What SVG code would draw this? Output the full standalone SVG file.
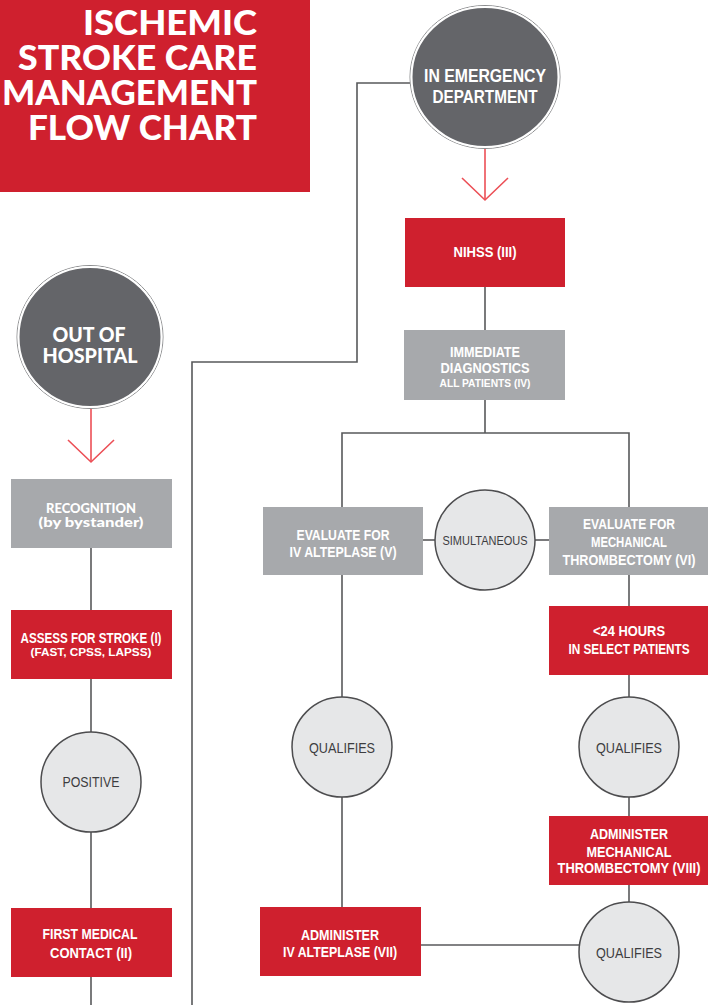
<svg xmlns="http://www.w3.org/2000/svg" width="708" height="1005" viewBox="0 0 708 1005">
<style>
.red{fill:#cf202e}
.gray{fill:#a7a9ac}
.light{fill:#e6e7e8;stroke:#4d4d4f;stroke-width:1.5}
.dark{fill:#646569;stroke:#ffffff;stroke-width:2}
.ring{fill:none;stroke:#8a8b8d;stroke-width:1}
.ln{fill:none;stroke:#58595b;stroke-width:1.6}
.arr{fill:none;stroke:#ec4f56;stroke-width:1.6}
.bt{font-family:"Liberation Sans",Arial,sans-serif;font-weight:bold;fill:#ffffff;text-anchor:middle}
.ct{font-family:"Liberation Sans",Arial,sans-serif;fill:#3d3d3f;text-anchor:middle}
.gt{font-family:Lato,"Liberation Sans",sans-serif;font-weight:900;fill:#ffffff;text-anchor:middle}
.tt{font-family:Lato,"Liberation Sans",sans-serif;font-weight:900;fill:#ffffff;text-anchor:end;font-size:34px}
</style>
<rect width="708" height="1005" fill="#ffffff"/>
<g id="title">
<rect x="0" y="0" width="310" height="192" class="red"/>
<text class="tt" x="257" y="35" textLength="174" lengthAdjust="spacingAndGlyphs">ISCHEMIC</text>
<text class="tt" x="257" y="70" textLength="239" lengthAdjust="spacingAndGlyphs">STROKE CARE</text>
<text class="tt" x="257" y="105" textLength="255" lengthAdjust="spacingAndGlyphs">MANAGEMENT</text>
<text class="tt" x="257" y="140" textLength="229" lengthAdjust="spacingAndGlyphs">FLOW CHART</text>
</g>
<g id="connectors">
<polyline class="ln" points="410,83 357,83 357,362 192,362 192,1005"/>
<line class="ln" x1="485" y1="287" x2="485" y2="330"/>
<polyline class="ln" points="485,400 485,433"/>
<polyline class="ln" points="342,507 342,433 629,433 629,507"/>
<line class="ln" x1="423" y1="540" x2="435" y2="540"/>
<line class="ln" x1="535" y1="540" x2="549" y2="540"/>
<line class="ln" x1="342" y1="575" x2="342" y2="697"/>
<line class="ln" x1="342" y1="797" x2="342" y2="907"/>
<line class="ln" x1="421" y1="945" x2="579" y2="945"/>
<line class="ln" x1="629" y1="575" x2="629" y2="606"/>
<line class="ln" x1="629" y1="675" x2="629" y2="697"/>
<line class="ln" x1="629" y1="797" x2="629" y2="816"/>
<line class="ln" x1="629" y1="885" x2="629" y2="902"/>
<line class="ln" x1="91" y1="548" x2="91" y2="610"/>
<line class="ln" x1="91" y1="679" x2="91" y2="732"/>
<line class="ln" x1="91" y1="832" x2="91" y2="908"/>
<line class="ln" x1="91" y1="977" x2="91" y2="1005"/>
<line class="arr" x1="485" y1="149" x2="485" y2="200"/>
<polyline class="arr" points="462,178 485,200 508,178"/>
<line class="arr" x1="91" y1="409" x2="91" y2="462"/>
<polyline class="arr" points="68,440 91,462 114,440"/>
</g>
<g id="ed">
<ellipse class="ring" cx="485" cy="77" rx="75" ry="71.5"/>
<ellipse class="dark" cx="485" cy="77" rx="73.5" ry="70"/>
<text class="bt" x="485" y="82" font-size="18" textLength="122" lengthAdjust="spacingAndGlyphs">IN EMERGENCY</text>
<text class="bt" x="485" y="103" font-size="18" textLength="105" lengthAdjust="spacingAndGlyphs">DEPARTMENT</text>
</g>
<g id="nihss">
<rect x="405" y="218" width="160" height="69" class="red"/>
<text class="bt" x="485" y="257" font-size="15" textLength="63" lengthAdjust="spacingAndGlyphs">NIHSS (III)</text>
</g>
<g id="diagnostics">
<rect x="404" y="330" width="161" height="70" class="gray"/>
<text class="bt" x="485" y="357" font-size="14.5" textLength="70" lengthAdjust="spacingAndGlyphs">IMMEDIATE</text>
<text class="bt" x="485" y="373" font-size="14.5" textLength="89" lengthAdjust="spacingAndGlyphs">DIAGNOSTICS</text>
<text class="bt" x="485" y="387" font-size="10.5" textLength="91" lengthAdjust="spacingAndGlyphs">ALL PATIENTS (IV)</text>
</g>
<g id="eval-iv">
<rect x="263" y="507" width="160" height="68" class="gray"/>
<text class="bt" x="343" y="540" font-size="15" textLength="93" lengthAdjust="spacingAndGlyphs">EVALUATE FOR</text>
<text class="bt" x="343" y="557" font-size="15" textLength="107" lengthAdjust="spacingAndGlyphs">IV ALTEPLASE (V)</text>
</g>
<g id="simultaneous">
<circle class="light" cx="485" cy="540" r="50"/>
<text class="ct" x="485" y="545" font-size="12" textLength="85" lengthAdjust="spacingAndGlyphs">SIMULTANEOUS</text>
</g>
<g id="eval-mt">
<rect x="549" y="507" width="159" height="68" class="gray"/>
<text class="bt" x="629" y="529" font-size="15" textLength="92" lengthAdjust="spacingAndGlyphs">EVALUATE FOR</text>
<text class="bt" x="629" y="547" font-size="15" textLength="76" lengthAdjust="spacingAndGlyphs">MECHANICAL</text>
<text class="bt" x="629" y="565" font-size="14" textLength="133" lengthAdjust="spacingAndGlyphs">THROMBECTOMY (VI)</text>
</g>
<g id="hours24">
<rect x="549" y="606" width="159" height="69" class="red"/>
<text class="bt" x="629" y="636" font-size="15" textLength="72" lengthAdjust="spacingAndGlyphs">&lt;24 HOURS</text>
<text class="bt" x="629" y="654" font-size="14" textLength="121" lengthAdjust="spacingAndGlyphs">IN SELECT PATIENTS</text>
</g>
<g id="qualifies-iv">
<circle class="light" cx="342" cy="747" r="50"/>
<text class="ct" x="342" y="753" font-size="15.5" textLength="66" lengthAdjust="spacingAndGlyphs">QUALIFIES</text>
</g>
<g id="qualifies-mt">
<circle class="light" cx="629" cy="747" r="50"/>
<text class="ct" x="629" y="753" font-size="15.5" textLength="66" lengthAdjust="spacingAndGlyphs">QUALIFIES</text>
</g>
<g id="administer-mt">
<rect x="549" y="816" width="159" height="69" class="red"/>
<text class="bt" x="629" y="839" font-size="15" textLength="78" lengthAdjust="spacingAndGlyphs">ADMINISTER</text>
<text class="bt" x="629" y="857" font-size="15" textLength="85" lengthAdjust="spacingAndGlyphs">MECHANICAL</text>
<text class="bt" x="629" y="873" font-size="14" textLength="143" lengthAdjust="spacingAndGlyphs">THROMBECTOMY (VIII)</text>
</g>
<g id="qualifies-bottom">
<circle class="light" cx="629" cy="952" r="50"/>
<text class="ct" x="629" y="958" font-size="15.5" textLength="66" lengthAdjust="spacingAndGlyphs">QUALIFIES</text>
</g>
<g id="administer-iv">
<rect x="260" y="907" width="161" height="69" class="red"/>
<text class="bt" x="340" y="940" font-size="15" textLength="78" lengthAdjust="spacingAndGlyphs">ADMINISTER</text>
<text class="bt" x="340" y="957" font-size="15" textLength="114" lengthAdjust="spacingAndGlyphs">IV ALTEPLASE (VII)</text>
</g>
<g id="out-of-hospital">
<ellipse class="ring" cx="90" cy="337" rx="73" ry="71.5"/>
<ellipse class="dark" cx="90" cy="337" rx="71.5" ry="70"/>
<text class="gt" x="89" y="342" font-size="20" textLength="73" lengthAdjust="spacingAndGlyphs">OUT OF</text>
<text class="gt" x="90" y="363" font-size="20" textLength="95" lengthAdjust="spacingAndGlyphs">HOSPITAL</text>
</g>
<g id="recognition">
<rect x="11" y="479" width="161" height="69" class="gray"/>
<text class="gt" x="91" y="513" font-size="13" textLength="90" lengthAdjust="spacingAndGlyphs">RECOGNITION</text>
<text class="gt" x="91" y="527" font-size="13" textLength="105" lengthAdjust="spacingAndGlyphs">(by bystander)</text>
</g>
<g id="assess">
<rect x="11" y="610" width="161" height="69" class="red"/>
<text class="bt" x="91" y="643" font-size="14.5" textLength="141" lengthAdjust="spacingAndGlyphs">ASSESS FOR STROKE (I)</text>
<text class="bt" x="91" y="656" font-size="11" textLength="121" lengthAdjust="spacingAndGlyphs">(FAST, CPSS, LAPSS)</text>
</g>
<g id="positive">
<circle class="light" cx="91" cy="782" r="50"/>
<text class="ct" x="91" y="787" font-size="14" textLength="57" lengthAdjust="spacingAndGlyphs">POSITIVE</text>
</g>
<g id="first-contact">
<rect x="11" y="908" width="161" height="69" class="red"/>
<text class="bt" x="90" y="939" font-size="15" textLength="95" lengthAdjust="spacingAndGlyphs">FIRST MEDICAL</text>
<text class="bt" x="91" y="958" font-size="15" textLength="82" lengthAdjust="spacingAndGlyphs">CONTACT (II)</text>
</g>
</svg>
